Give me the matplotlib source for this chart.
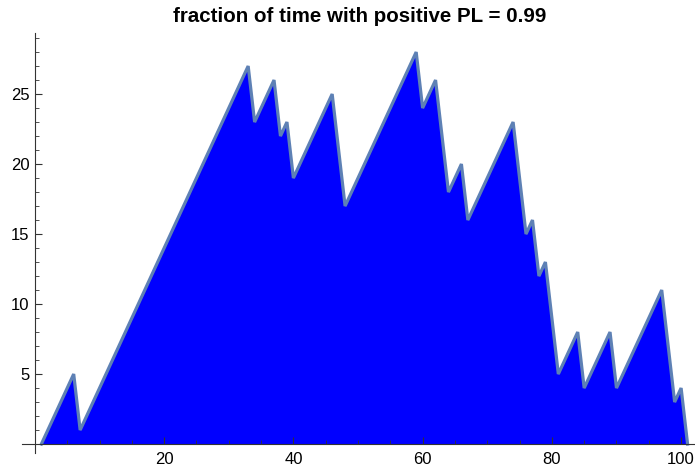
import matplotlib
matplotlib.use("Agg")
import matplotlib.pyplot as plt
from matplotlib.ticker import MultipleLocator

plt.rcParams['font.family'] = ['Liberation Sans', 'DejaVu Sans']

# cumulative PL per step
steps = list(range(1, 102))
pl = [0, 1, 2, 3, 4, 5, 1,
      2, 3, 4, 5, 6, 7, 8, 9, 10, 11, 12, 13, 14, 15, 16, 17, 18, 19, 20,
      21, 22, 23, 24, 25, 26, 27,
      23, 24, 25, 26, 22, 23, 19,
      20, 21, 22, 23, 24, 25,
      21, 17,
      18, 19, 20, 21, 22, 23, 24, 25, 26, 27, 28,
      24, 25, 26, 22, 18,
      19, 20, 16,
      17, 18, 19, 20, 21, 22, 23,
      19, 15, 16, 12, 13, 9, 5,
      6, 7, 8, 4,
      5, 6, 7, 8, 4,
      5, 6, 7, 8, 9, 10, 11,
      7, 3, 4, 0]
frac_pos = 0.99

fig = plt.figure(figsize=(6.95, 4.66), dpi=100)
ax = fig.add_axes([22 / 695, 13 / 466, 673 / 695, 420 / 466])

line_col = (0.368, 0.507, 0.710)
ax.fill_between(steps, 0, pl, color=(0, 0, 1), linewidth=0, zorder=1)
ax.plot(steps, pl, color=line_col, linewidth=2.3, zorder=2, solid_joinstyle='miter')

ax.set_xlim(-2.0, 102.15)
ax.set_ylim(-0.64, 29.36)

for s in ['top', 'right']:
    ax.spines[s].set_visible(False)
ax.spines['left'].set_position(('data', 0))
ax.spines['bottom'].set_position(('data', 0))
for s in ['left', 'bottom']:
    ax.spines[s].set_color('#333333')
    ax.spines[s].set_linewidth(0.8)
    ax.spines[s].set_zorder(3)

ax.xaxis.set_minor_locator(MultipleLocator(5))
ax.yaxis.set_minor_locator(MultipleLocator(1))
ax.set_xticks([20, 40, 60, 80, 100])
ax.set_yticks([5, 10, 15, 20, 25])
ax.tick_params(which='major', direction='in', length=5, width=0.8, color='#333333',
               labelsize=12, pad=6)
ax.tick_params(which='minor', direction='in', length=3, width=0.6, color='#333333')
ax.tick_params(axis='y', which='major', pad=4)

fig.text(0.518, 0.965, 'fraction of time with positive PL = %.2f' % frac_pos,
         ha='center', va='center', fontsize=14.8, fontweight='bold')

fig.savefig('out.png', dpi=100)
